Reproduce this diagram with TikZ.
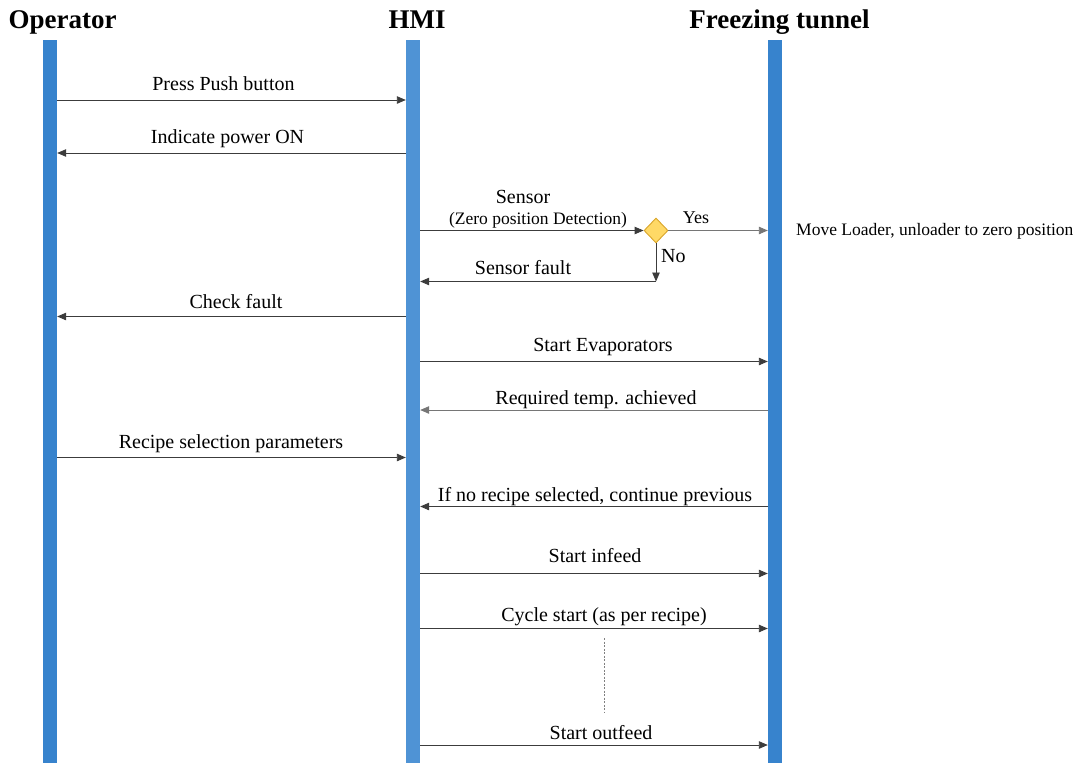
\documentclass[tikz,border=0pt]{standalone}
\usepackage{fontspec}
\setmainfont{Liberation Serif}
\usetikzlibrary{arrows.meta,shapes.geometric}

\definecolor{lifeblue}{HTML}{3783CD}
\definecolor{hmiblue}{HTML}{4F93D5}
\definecolor{msgline}{HTML}{3C3C3C}
\definecolor{decfill}{HTML}{FFD966}
\definecolor{decdraw}{HTML}{D9A52A}

\tikzset{
  lifeline/.style={rectangle, inner sep=0pt, minimum width=14pt, minimum height=723pt, anchor=north},
  header/.style={font=\fontsize{27}{30}\selectfont\bfseries, anchor=base, inner sep=0pt},
  msglabel/.style={font=\fontsize{20}{24}\selectfont, anchor=base, inner sep=0pt},
  smalllabel/.style={font=\fontsize{17.5}{21}\selectfont, anchor=base, inner sep=0pt},
  msg/.style={draw=msgline, line width=0.9pt, -{Triangle[length=9pt,width=7.5pt]}},
  lightmsg/.style={msg, draw=msgline!70},
  decision/.style={diamond, draw=decdraw, fill=decfill, line width=0.9pt, inner sep=0pt, minimum width=24pt, minimum height=25pt}
}

\begin{document}
\begin{tikzpicture}[x=1pt, y=-1pt]
  \useasboundingbox (0,0) rectangle (1081,763);

  % participants
  \node[header] (hop) at (62.5,28) {Operator};
  \node[header] (hhmi) at (417,28) {HMI};
  \node[header] (htun) at (779.5,28) {Freezing tunnel};

  % lifelines
  \node[lifeline, fill=lifeblue] (op)  at (50,40)  {};
  \node[lifeline, fill=hmiblue]  (hmi) at (413,40) {};
  \node[lifeline, fill=lifeblue] (tun) at (775,40) {};

  % power on
  \draw[msg] (op.east |- 0,100) -- (hmi.west |- 0,100);
  \node[msglabel] (l1) at (223.5,90) {Press Push button};
  \draw[msg] (hmi.west |- 0,153) -- (op.east |- 0,153);
  \node[msglabel] (l2) at (227.5,143) {Indicate power ON};

  % zero position check
  \node[decision] (dec) at (656,230.5) {};
  \draw[msg] (hmi.east |- dec.west) -- (dec.west);
  \node[msglabel] (l3) at (523,203) {Sensor};
  \node[smalllabel] (l3b) at (538,224) {(Zero position Detection)};
  \draw[lightmsg] (dec.east) -- (tun.west |- dec.east);
  \node[font=\fontsize{18}{21}\selectfont, anchor=base, inner sep=0pt] (yes) at (696,223) {Yes};
  \node[smalllabel, anchor=base west] (mv) at (796,235) {Move Loader, unloader to zero position};
  \coordinate (fault) at (656,281.5);
  \draw[msg] (dec.south) -- (fault);
  \node[msglabel, anchor=base west] (no) at (661,262) {No};
  \draw[msg] (fault) -- (hmi.east |- fault);
  \node[msglabel] (l4) at (523,274) {Sensor fault};

  \draw[msg] (hmi.west |- 0,316.5) -- (op.east |- 0,316.5);
  \node[msglabel] (l5) at (236,308.5) {Check fault};

  % evaporators
  \draw[msg] (hmi.east |- 0,361.5) -- (tun.west |- 0,361.5);
  \node[msglabel] (l6) at (603,351) {Start Evaporators};
  \draw[lightmsg] (tun.west |- 0,410) -- (hmi.east |- 0,410);
  \node[msglabel] (l7) at (596,404) {Required temp. achieved};

  % recipe
  \draw[msg] (op.east |- 0,457.5) -- (hmi.west |- 0,457.5);
  \node[msglabel] (l8) at (231,448) {Recipe selection parameters};
  \draw[msg] (tun.west |- 0,506.5) -- (hmi.east |- 0,506.5);
  \node[msglabel] (l9) at (595,501) {If no recipe selected, continue previous};

  % production
  \draw[msg] (hmi.east |- 0,573.5) -- (tun.west |- 0,573.5);
  \node[msglabel] (l10) at (595,562) {Start infeed};
  \draw[msg] (hmi.east |- 0,628.5) -- (tun.west |- 0,628.5);
  \node[msglabel] (l11) at (604,621) {Cycle start (as per recipe)};
  \coordinate (gapa) at (604,638);
  \coordinate (gapb) at (604,713);
  \draw[gray, line width=0.7pt, dash pattern=on 2pt off 1.5pt] (gapa) -- (gapb);
  \draw[msg] (hmi.east |- 0,745) -- (tun.west |- 0,745);
  \node[msglabel] (l12) at (601,739) {Start outfeed};
\end{tikzpicture}
\end{document}
